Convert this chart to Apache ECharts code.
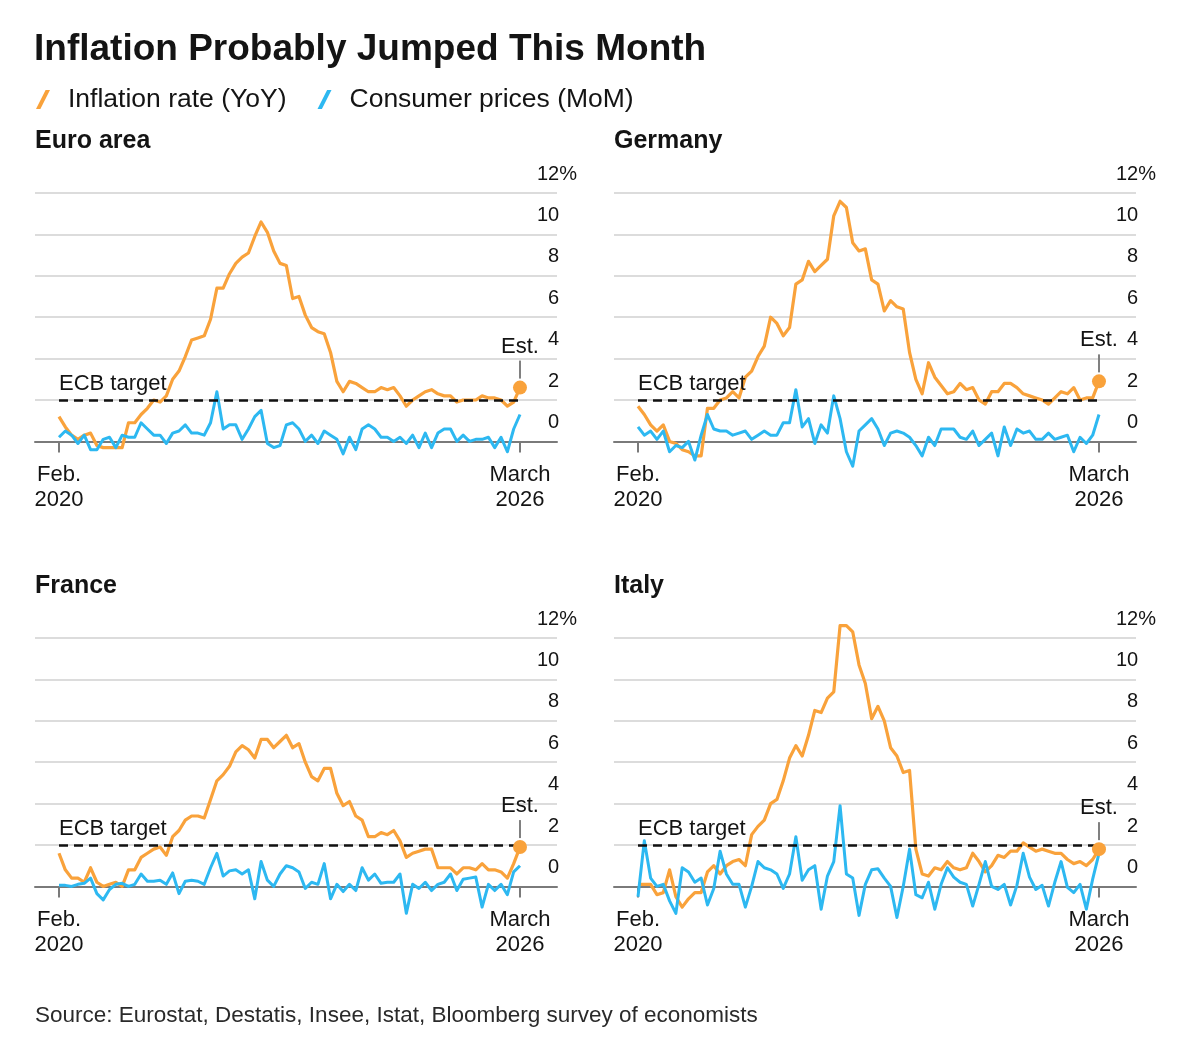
<!DOCTYPE html>
<html>
<head>
<meta charset="utf-8">
<script src="https://cdn.jsdelivr.net/npm/echarts@6.0.0/dist/echarts.min.js"></script>
<style>
html,body{margin:0;padding:0;background:#fff;}
#chart{width:1200px;height:1057px;}
</style>
</head>
<body>
<div id="chart"></div>
<script>
// ---------- data ----------
const chartTitle = 'Inflation Probably Jumped This Month';
const sourceText = 'Source: Eurostat, Destatis, Insee, Istat, Bloomberg survey of economists';
const seriesNames = ['Inflation rate (YoY)', 'Consumer prices (MoM)'];
const panelNames = ['Euro area', 'Germany', 'France', 'Italy'];
// monthly index: 0 = Feb 2020 ... 73 = March 2026 (estimate)
const xTickIndex = [0, 73];
const xTickLabels = ['Feb.\n2020', 'March\n2026'];
const yTickValues = [0, 2, 4, 6, 8, 10, 12];
const ecbTarget = 2;
const ecbLabel = 'ECB target';
const estLabel = 'Est.';

const euroYoY = [
  1.2,0.7,0.3,0.1,0.3,0.4,-0.2,-0.3,-0.3,-0.3,-0.3,
  0.9,0.9,1.3,1.6,2.0,1.9,2.2,3.0,3.4,4.1,4.9,5.0,
  5.1,5.9,7.4,7.4,8.1,8.6,8.9,9.1,9.9,10.6,10.1,9.2,
  8.6,8.5,6.9,7.0,6.1,5.5,5.3,5.2,4.3,2.9,2.4,2.9,
  2.8,2.6,2.4,2.4,2.6,2.5,2.6,2.2,1.7,2.0,2.2,2.4,
  2.5,2.3,2.2,2.2,1.9,2.0,2.0,2.0,2.2,2.1,2.1,2.0,
  1.7,1.9,2.6];
const euroMoM = [
  0.2,0.5,0.3,-0.1,0.3,-0.4,-0.4,0.1,0.2,-0.3,0.3,
  0.2,0.2,0.9,0.6,0.3,0.3,-0.1,0.4,0.5,0.8,0.4,0.4,
  0.3,0.9,2.4,0.6,0.8,0.8,0.1,0.6,1.2,1.5,-0.1,-0.3,
  -0.2,0.8,0.9,0.6,0.0,0.3,-0.1,0.5,0.3,0.1,-0.6,0.2,
  -0.4,0.6,0.8,0.6,0.2,0.2,0.0,0.2,-0.1,0.3,-0.3,0.4,
  -0.3,0.4,0.6,0.6,0.0,0.3,0.0,0.1,0.1,0.2,-0.3,0.2,
  -0.5,0.6,1.3];

const germanyYoY = [
  1.7,1.3,0.8,0.5,0.8,0.0,-0.1,-0.4,-0.5,-0.7,-0.7,
  1.6,1.6,2.0,2.1,2.4,2.1,3.1,3.4,4.1,4.6,6.0,5.7,
  5.1,5.5,7.6,7.8,8.7,8.2,8.5,8.8,10.9,11.6,11.3,9.6,
  9.2,9.3,7.8,7.6,6.3,6.8,6.5,6.4,4.3,3.0,2.3,3.8,
  3.1,2.7,2.3,2.4,2.8,2.5,2.6,2.0,1.8,2.4,2.4,2.8,
  2.8,2.6,2.3,2.2,2.1,2.0,1.8,2.1,2.4,2.3,2.6,2.0,
  2.1,2.1,2.9];
const germanyMoM = [
  0.7,0.3,0.5,0.1,0.5,-0.5,-0.2,-0.3,0.0,-0.9,0.3,
  1.3,0.6,0.5,0.5,0.3,0.4,0.5,0.1,0.3,0.5,0.3,0.3,
  0.9,0.9,2.5,0.7,1.1,-0.1,0.8,0.4,2.2,1.1,-0.5,-1.2,
  0.5,0.8,1.1,0.6,-0.2,0.4,0.5,0.4,0.2,-0.2,-0.7,0.2,
  -0.2,0.6,0.6,0.6,0.2,0.1,0.5,-0.2,0.1,0.4,-0.7,0.7,
  -0.2,0.6,0.4,0.5,0.1,0.1,0.4,0.1,0.2,0.3,-0.5,0.2,
  -0.1,0.3,1.3];

const franceYoY = [
  1.6,0.8,0.4,0.4,0.2,0.9,0.2,0.0,0.1,0.2,0.0,
  0.8,0.8,1.4,1.6,1.8,1.9,1.5,2.4,2.7,3.2,3.4,3.4,
  3.3,4.2,5.1,5.4,5.8,6.5,6.8,6.6,6.2,7.1,7.1,6.7,
  7.0,7.3,6.7,6.9,6.0,5.3,5.1,5.7,5.7,4.5,3.9,4.1,
  3.4,3.2,2.4,2.4,2.6,2.5,2.7,2.2,1.4,1.6,1.7,1.8,
  1.8,0.9,0.9,0.9,0.6,0.9,0.9,0.8,1.1,0.8,0.8,0.7,
  0.4,1.1,1.9];
const franceMoM = [
  0.05,0.05,0.0,0.1,0.15,0.4,-0.35,-0.65,-0.15,0.1,0.15,
  0.0,0.1,0.6,0.25,0.25,0.3,0.1,0.65,-0.35,0.25,0.3,0.25,
  0.1,0.9,1.6,0.5,0.75,0.8,0.6,0.8,-0.6,1.2,0.3,0.0,
  0.6,1.0,0.9,0.7,-0.1,0.2,0.1,1.1,-0.6,0.1,-0.25,0.1,
  -0.2,0.9,0.3,0.6,0.15,0.2,0.2,0.6,-1.3,0.1,-0.1,0.2,
  -0.2,0.1,0.2,0.6,-0.2,0.35,0.4,0.45,-1.0,0.1,-0.2,0.1,
  -0.4,0.7,1.0];

const italyYoY = [
  0.1,0.1,0.1,-0.4,-0.3,0.8,-0.5,-1.0,-0.6,-0.3,-0.3,
  0.7,1.0,0.6,1.0,1.2,1.3,1.0,2.5,2.9,3.2,4.0,4.2,
  5.1,6.2,6.8,6.3,7.3,8.5,8.4,9.1,9.4,12.6,12.6,12.3,
  10.7,9.8,8.1,8.7,8.0,6.7,6.3,5.5,5.6,1.8,0.6,0.5,
  0.9,0.8,1.2,0.9,0.8,0.9,1.6,1.2,0.7,1.0,1.5,1.4,
  1.7,1.7,2.1,1.9,1.7,1.8,1.7,1.6,1.6,1.3,1.1,1.2,
  1.0,1.3,1.8];
const italyMoM = [
  -0.5,2.2,0.4,0.0,0.1,-0.7,-1.3,0.9,0.7,0.2,0.4,
  -0.9,-0.1,1.7,0.6,0.1,0.1,-1.0,0.0,1.2,0.9,0.8,0.6,
  -0.1,0.6,2.4,0.3,0.8,1.0,-1.1,0.5,1.2,3.9,0.6,0.4,
  -1.4,0.1,0.8,0.85,0.4,0.0,-1.5,0.0,1.8,-0.4,-0.55,0.2,
  -1.1,0.1,0.9,0.45,0.2,0.1,-0.95,0.1,1.2,0.0,-0.15,0.1,
  -0.9,0.05,1.6,0.45,-0.15,0.05,-0.95,0.2,1.2,-0.05,-0.3,0.1,
  -1.1,0.35,1.6];

// ---------- style / layout ----------
const ORANGE = '#F9A23B';
const BLUE = '#2DB8F1';
const TEXT = '#141414';
const FONT = '"Liberation Sans", Arial, Helvetica, sans-serif';
const GRID_W = 522, GRID_H = 248.4;
const X_MIN = -3.8, X_MAX = 78.86;
const panelLayout = [
  {left: 35, top: 193},
  {left: 614, top: 193},
  {left: 35, top: 638},
  {left: 614, top: 638}
];
const panelData = [
  {yoy: euroYoY, mom: euroMoM},
  {yoy: germanyYoY, mom: germanyMoM},
  {yoy: franceYoY, mom: franceMoM},
  {yoy: italyYoY, mom: italyMoM}
];
const slashIcon = 'path://M0,19L4.4,19L14,0L9.6,0Z M27,0L27,0.01';

const grids = [], xAxes = [], yAxes = [], series = [];
const titles = [{
  text: chartTitle, left: 34, top: 30, padding: 0,
  textStyle: {fontFamily: FONT, fontSize: 37, fontWeight: 'bold', color: TEXT, lineHeight: 40}
}];

panelLayout.forEach((L, k) => {
  const D = panelData[k];
  grids.push({left: L.left, top: L.top, width: GRID_W, height: GRID_H, containLabel: false, outerBoundsMode: 'none'});
  titles.push({
    text: panelNames[k], left: L.left, top: L.top - 67, padding: 0,
    textStyle: {fontFamily: FONT, fontSize: 25, fontWeight: 'bold', color: TEXT, lineHeight: 30}
  });
  xAxes.push({
    type: 'value', gridIndex: k, min: X_MIN, max: X_MAX,
    axisLine: {show: true, onZero: false, lineStyle: {color: '#7a7a7a', width: 2}},
    axisTick: {show: true, customValues: xTickIndex, length: 11, lineStyle: {color: '#7a7a7a', width: 2}},
    axisLabel: {
      show: true, customValues: xTickIndex, margin: 21,
      formatter: v => xTickLabels[xTickIndex.indexOf(Math.round(v))] || '',
      fontFamily: FONT, fontSize: 22, lineHeight: 25, color: TEXT, align: 'center'
    },
    splitLine: {show: false}
  });
  yAxes.push({
    type: 'value', gridIndex: k, position: 'right', min: 0, max: 12, interval: 2,
    axisLine: {show: false}, axisTick: {show: false},
    axisLabel: {
      show: true, inside: false, margin: 20, align: 'right', verticalAlign: 'bottom',
      formatter: v => {
        if (yTickValues.indexOf(v) < 0) return '';
        return v === 12 ? '{n|12}{p|%}' : '{n|' + v + '}{h|%}';
      },
      rich: {
        n: {fontFamily: FONT, fontSize: 20, lineHeight: 38, color: TEXT},
        p: {fontFamily: FONT, fontSize: 20, lineHeight: 38, color: TEXT},
        h: {fontFamily: FONT, fontSize: 20, lineHeight: 38, color: 'rgba(0,0,0,0)'}
      }
    },
    splitLine: {show: true, lineStyle: {
      width: 2,
      color: ['rgba(0,0,0,0)', '#dcdcdc', '#dcdcdc', '#dcdcdc', '#dcdcdc', '#dcdcdc', '#dcdcdc']
    }}
  });
  series.push({
    type: 'line', name: seriesNames[0], xAxisIndex: k, yAxisIndex: k,
    data: D.yoy.map((v, i) => [i, v]),
    showSymbol: false, symbol: 'none', clip: false, z: 2,
    lineStyle: {color: ORANGE, width: 3.2, join: 'round'}, itemStyle: {color: ORANGE}
  });
  series.push({
    type: 'line', name: seriesNames[1], xAxisIndex: k, yAxisIndex: k,
    data: D.mom.map((v, i) => [i, v]),
    showSymbol: false, symbol: 'none', clip: false, z: 3,
    lineStyle: {color: BLUE, width: 3, join: 'round'}, itemStyle: {color: BLUE},
    markLine: {
      silent: true, symbol: ['none', 'none'], animation: false,
      lineStyle: {color: '#111', width: 2.5, type: [9, 6]},
      label: {
        show: true, position: 'insideStartTop', formatter: ecbLabel, distance: [0, 4],
        fontFamily: FONT, fontSize: 22, lineHeight: 24, color: TEXT
      },
      data: [[{coord: [xTickIndex[0], ecbTarget]}, {coord: [xTickIndex[1], ecbTarget]}]]
    }
  });
  const last = D.yoy.length - 1;
  series.push({
    type: 'scatter', name: seriesNames[0], xAxisIndex: k, yAxisIndex: k,
    data: [[last, D.yoy[last]]], symbol: 'circle', symbolSize: 14, clip: false, z: 5,
    itemStyle: {color: ORANGE, opacity: 1},
    label: {
      show: true, position: 'top', distance: 2,
      formatter: '{t|' + estLabel + '}\n{l| }',
      rich: {
        t: {fontFamily: FONT, fontSize: 22, lineHeight: 28, color: TEXT, align: 'center'},
        l: {width: 2, height: 18, lineHeight: 18, fontSize: 1, backgroundColor: '#808080', align: 'center'}
      }
    }
  });
});

titles.push({
  text: sourceText, left: 35, top: 1003, padding: 0,
  textStyle: {fontFamily: FONT, fontSize: 22.5, fontWeight: 'normal', color: '#2a2a2a', lineHeight: 26}
});

const option = {
  animation: false,
  backgroundColor: '#fff',
  textStyle: {fontFamily: FONT},
  title: titles,
  legend: {
    left: 36, top: 86, padding: 0, orient: 'horizontal',
    itemWidth: 27, itemHeight: 19, itemGap: 31, selectedMode: false,
    symbolKeepAspect: true,
    textStyle: {fontFamily: FONT, fontSize: 26.5, color: TEXT, lineHeight: 24},
    data: [
      {name: seriesNames[0], icon: slashIcon, itemStyle: {color: ORANGE, borderWidth: 0}},
      {name: seriesNames[1], icon: slashIcon, itemStyle: {color: BLUE, borderWidth: 0}}
    ]
  },
  grid: grids,
  xAxis: xAxes,
  yAxis: yAxes,
  series: series
};

const chart = echarts.init(document.getElementById('chart'), null, {renderer: 'canvas'});
chart.setOption(option);
</script>
</body>
</html>
